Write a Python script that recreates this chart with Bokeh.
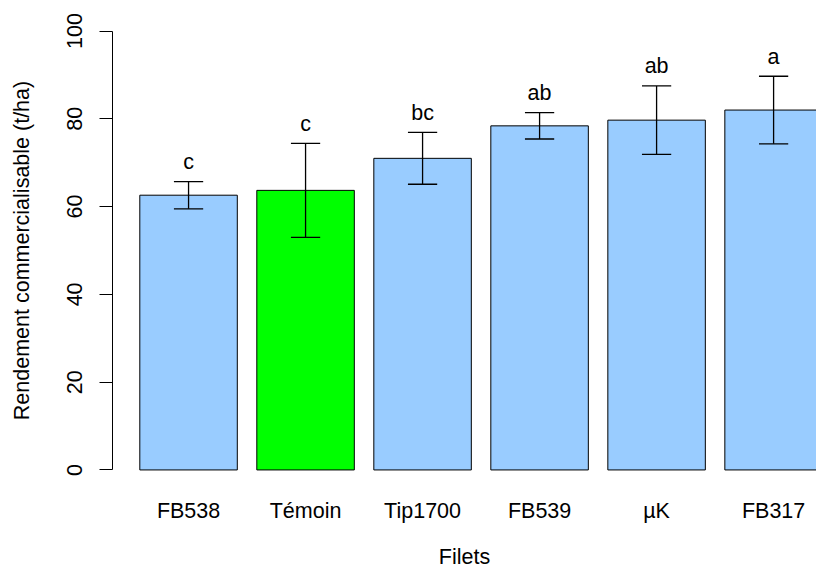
from bokeh.plotting import figure
from bokeh.models import Range1d, FixedTicker
from bokeh.core.properties import value
from bokeh.embed import file_html
from bokeh.resources import INLINE

# ---- data ----
categories = ["FB538", "Témoin", "Tip1700", "FB539", "µK", "FB317"]
means = [62.6, 63.7, 71.0, 78.4, 79.7, 82.0]
errors = [3.1, 10.7, 5.9, 3.0, 7.8, 7.7]
letters = ["c", "c", "bc", "ab", "ab", "a"]
y_ticks = [0, 20, 40, 60, 80, 100]
control = "Témoin"

# ---- layout (R barplot style: width 1, space 0.2) ----
centers = [round(1.2 * (i + 1) - 0.5, 2) for i in range(len(categories))]
upper = [m + e for m, e in zip(means, errors)]
lower = [m - e for m, e in zip(means, errors)]
cap = 0.15
colors = ["#00FF00" if c == control else "#99CCFF" for c in categories]

FONT = "Liberation Sans"
FS = "21.5px"

p = figure(width=816, height=571,
           x_range=Range1d(-0.08, 7.14), y_range=Range1d(-4, 104),
           output_backend="svg", toolbar_location=None,
           min_border_left=112, min_border_right=0,
           min_border_top=13, min_border_bottom=83)
p.outline_line_color = None
p.xgrid.visible = False
p.ygrid.visible = False
p.background_fill_color = "white"
p.border_fill_color = "white"

p.vbar(x=centers, top=means, bottom=0, width=1.0,
       fill_color=colors, line_color="black", line_width=1)

# error bars
p.segment(x0=centers, y0=lower, x1=centers, y1=upper,
          line_color="black", line_width=1.3)
p.segment(x0=[c - cap for c in centers], y0=upper,
          x1=[c + cap for c in centers], y1=upper,
          line_color="black", line_width=1.3)
p.segment(x0=[c - cap for c in centers], y0=lower,
          x1=[c + cap for c in centers], y1=lower,
          line_color="black", line_width=1.3)

# significance letters
p.text(x=centers, y=[u + 4.5 for u in upper], text=letters,
       text_font=value(FONT), text_font_size=FS, text_color="black",
       text_align="center", text_baseline="alphabetic")

# x axis
xa = p.xaxis[0]
xa.ticker = FixedTicker(ticks=centers)
xa.major_label_overrides = {c: n for c, n in zip(centers, categories)}
xa.axis_line_color = None
xa.major_tick_line_color = None
xa.minor_tick_line_color = None
xa.major_tick_out = 0
xa.major_tick_in = 0
xa.major_label_standoff = 11
xa.major_label_text_font = FONT
xa.major_label_text_font_size = FS
xa.major_label_text_color = "black"
xa.axis_label = "Filets"
xa.axis_label_text_font = FONT
xa.axis_label_text_font_size = FS
xa.axis_label_text_font_style = "normal"
xa.axis_label_text_color = "black"
xa.axis_label_standoff = 19

# y axis
ya = p.yaxis[0]
ya.ticker = FixedTicker(ticks=y_ticks)
ya.bounds = (0, 100)
ya.axis_line_color = "black"
ya.axis_line_width = 1
ya.major_tick_line_color = "black"
ya.major_tick_line_width = 1
ya.major_tick_out = 13
ya.major_tick_in = 0
ya.minor_tick_line_color = None
ya.major_label_orientation = "vertical"
ya.major_label_standoff = 17
ya.major_label_text_font = FONT
ya.major_label_text_font_size = FS
ya.major_label_text_color = "black"
ya.axis_label = "Rendement commercialisable (t/ha)"
ya.axis_label_text_font = FONT
ya.axis_label_text_font_size = FS
ya.axis_label_text_font_style = "normal"
ya.axis_label_text_color = "black"
ya.axis_label_standoff = 31

open("out.html", "w").write(file_html(p, INLINE))
